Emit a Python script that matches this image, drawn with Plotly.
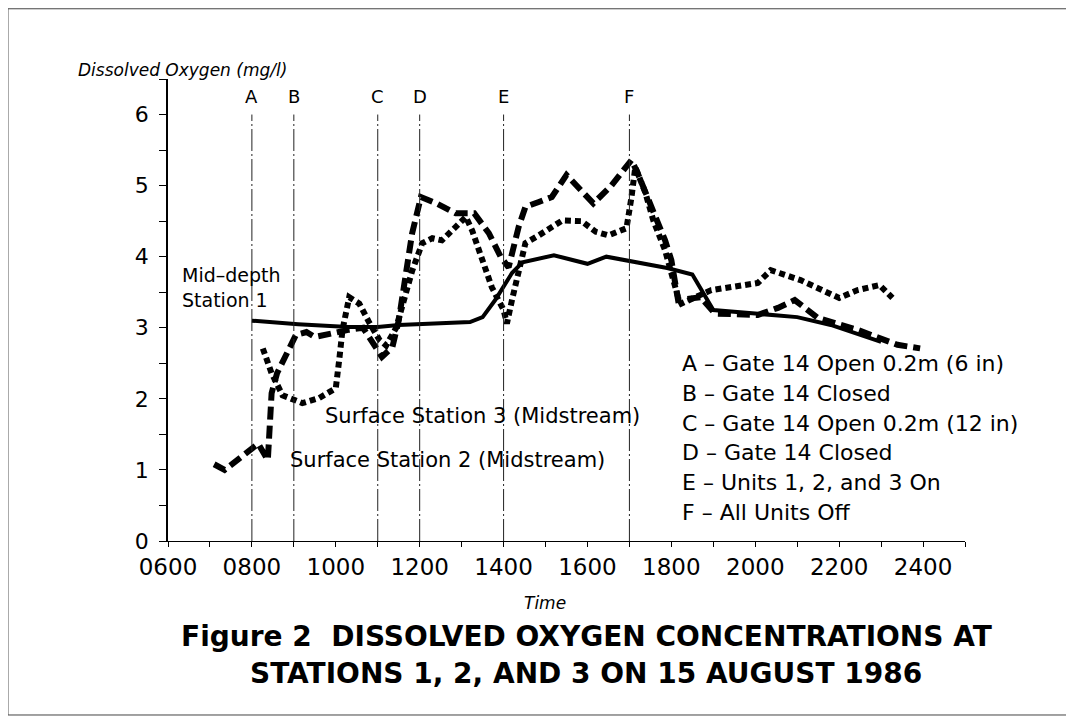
import plotly.graph_objects as go

# Time in decimal hours, dissolved oxygen in mg/l
st1_time = [8.0, 9.1, 10.3, 11.0, 11.5, 12.0, 13.2, 13.5, 13.8, 14.2, 14.45, 15.2,
            16.0, 16.45, 17.2, 17.9, 18.5, 19.0, 20.0, 21.0, 21.8, 23.0]
st1_do = [3.10, 3.05, 3.01, 3.01, 3.04, 3.05, 3.08, 3.15, 3.39, 3.77, 3.92, 4.02,
          3.90, 4.00, 3.91, 3.84, 3.75, 3.25, 3.20, 3.15, 3.04, 2.80]

st2_time = [7.1, 7.35, 8.15, 8.38, 8.47, 8.6, 9.05, 9.3, 9.5, 10.0, 10.3, 10.65,
            11.1, 11.35, 11.5, 11.82, 12.03, 12.4, 12.86, 13.3, 13.65, 13.93, 14.12,
            14.36, 14.52, 14.84, 15.15, 15.5, 15.86, 16.14, 16.57, 17.05, 17.2, 17.45,
            17.6, 17.85, 18.0, 18.16, 18.7, 19.04, 20.06, 20.54, 20.94, 21.18, 21.49,
            22.44, 23.08, 23.39, 23.93]
st2_do = [1.08, 1.0, 1.37, 1.14, 2.08, 2.36, 2.90, 2.94, 2.87, 2.94, 2.97, 3.0,
          2.59, 2.73, 3.1, 4.33, 4.84, 4.75, 4.61, 4.61, 4.33, 4.0, 3.85,
          4.42, 4.70, 4.77, 4.84, 5.15, 4.94, 4.75, 5.0, 5.36, 5.17, 4.8,
          4.56, 4.23, 3.95, 3.39, 3.43, 3.20, 3.18, 3.28, 3.39, 3.27, 3.14,
          2.97, 2.83, 2.76, 2.71]

st3_time = [8.26, 8.47, 8.73, 9.2, 9.6, 10.0, 10.09, 10.16, 10.32, 10.56, 10.8, 11.04,
            11.2, 11.44, 11.82, 12.06, 12.3, 12.53, 12.86, 13.1, 13.25, 13.48, 13.72,
            14.0, 14.08, 14.2, 14.3, 14.52, 14.84, 15.24, 15.4, 15.86, 16.2, 16.5,
            16.93, 17.05, 17.14, 17.38, 17.57, 17.85, 18.0, 18.16, 18.24, 18.8, 18.95,
            20.06, 20.37, 21.08, 21.56, 22.0, 22.44, 22.96, 23.27]
st3_do = [2.71, 2.36, 2.05, 1.94, 2.01, 2.15, 2.59, 2.97, 3.43, 3.34, 3.07, 2.83,
          2.75, 3.0, 3.8, 4.19, 4.26, 4.23, 4.42, 4.56, 4.37, 3.95, 3.57,
          3.25, 3.06, 3.39, 3.67, 4.19, 4.30, 4.44, 4.51, 4.50, 4.35, 4.30,
          4.40, 4.84, 5.26, 4.9, 4.51, 4.09, 3.77, 3.43, 3.34, 3.48, 3.53,
          3.63, 3.81, 3.67, 3.53, 3.42, 3.53, 3.60, 3.42]

event_letters = ["A", "B", "C", "D", "E", "F"]
event_times = [8, 9, 11, 12, 14, 17]
event_notes = ["Gate 14 Open 0.2m (6 in)", "Gate 14 Closed", "Gate 14 Open 0.2m (12 in)",
               "Gate 14 Closed", "Units 1, 2, and 3 On", "All Units Off"]

x_tickvals = list(range(6, 26))
x_ticktext = ["0600", "", "0800", "", "1000", "", "1200", "", "1400", "", "1600", "",
              "1800", "", "2000", "", "2200", "", "2400", ""]
y_tickvals = [0, 0.5, 1, 1.5, 2, 2.5, 3, 3.5, 4, 4.5, 5, 5.5, 6, 6.5]
y_ticktext = ["0", "", "1", "", "2", "", "3", "", "4", "", "5", "", "6", ""]

FONT = "DejaVu Sans"
INK = "black"

fig = go.Figure()

fig.add_trace(go.Scatter(x=st1_time, y=st1_do, mode="lines", name="Mid-depth Station 1",
                         line=dict(color=INK, width=4)))
fig.add_trace(go.Scatter(x=st2_time, y=st2_do, mode="lines", name="Surface Station 2",
                         line=dict(color=INK, width=6, dash="13px,6px")))
fig.add_trace(go.Scatter(x=st3_time, y=st3_do, mode="lines", name="Surface Station 3",
                         line=dict(color=INK, width=6, dash="6px,4px")))

# event markers (vertical lines + letters)
for letter, t in zip(event_letters, event_times):
    fig.add_shape(type="line", xref="x", yref="y", x0=t, x1=t, y0=0, y1=6.0,
                  line=dict(color="#222", width=1, dash="22px,3px,2px,3px"))
    fig.add_annotation(x=t, y=6.26, xref="x", yref="y", yanchor="middle", text=letter,
                       showarrow=False, font=dict(family=FONT, size=18, color=INK))

# event legend text
legend_y = [2.5, 2.08, 1.66, 1.24, 0.82, 0.40]
for letter, note, ly in zip(event_letters, event_notes, legend_y):
    fig.add_annotation(x=18.2, y=ly, xref="x", yref="y", xanchor="left", yanchor="middle",
                       text=f"{letter} \u2013 {note}", showarrow=False,
                       font=dict(family=FONT, size=22, color=INK))

# series labels
fig.add_annotation(x=6.28, y=3.57, xref="x", yref="y", xanchor="left", yanchor="middle",
                   align="left", text="Mid\u2013depth<br>Station 1", showarrow=False,
                   font=dict(family=FONT, size=19, color=INK))
fig.add_annotation(x=9.7, y=1.76, xref="x", yref="y", xanchor="left", yanchor="middle",
                   text="Surface Station 3 (Midstream)", showarrow=False,
                   font=dict(family=FONT, size=21, color=INK))
fig.add_annotation(x=8.85, y=1.14, xref="x", yref="y", xanchor="left", yanchor="middle",
                   text="Surface Station 2 (Midstream)", showarrow=False,
                   font=dict(family=FONT, size=21, color=INK))

# axis titles
fig.add_annotation(x=-0.116, y=1.019, xref="paper", yref="paper", xanchor="left",
                   yanchor="middle", text="<i>Dissolved Oxygen (mg/l)</i>", showarrow=False,
                   font=dict(family=FONT, size=17, color=INK))
fig.add_annotation(x=0.473, y=-0.135, xref="paper", yref="paper", xanchor="center",
                   yanchor="middle", text="<i>Time</i>", showarrow=False,
                   font=dict(family=FONT, size=17, color=INK))

# figure caption (two lines)
caption = ["Figure 2  DISSOLVED OXYGEN CONCENTRATIONS AT",
           "STATIONS 1, 2, AND 3 ON 15 AUGUST 1986"]
for line, cy in zip(caption, [-0.206, -0.287]):
    fig.add_annotation(x=0.5245, y=cy, xref="paper", yref="paper", xanchor="center",
                       yanchor="middle", text=f"<b>{line}</b>", showarrow=False,
                       font=dict(family=FONT, size=28, color=INK))

# page frame
fig.add_shape(type="rect", xref="paper", yref="paper",
              x0=-0.2008, x1=1.1317, y0=-0.3766, y1=1.152,
              line=dict(color="#444", width=1))

# page body has an 8px margin, so the figure is 8px smaller than the window
fig.update_layout(
    width=1066, height=713,
    margin=dict(l=160, r=109, t=71, b=180),
    paper_bgcolor="white", plot_bgcolor="white",
    showlegend=False,
    font=dict(family=FONT, color=INK),
    xaxis=dict(range=[6, 25], tickvals=x_tickvals, ticktext=x_ticktext,
               ticks="outside", ticklen=5, tickcolor=INK, showgrid=False,
               zeroline=False, showline=True, linecolor=INK, linewidth=1,
               tickfont=dict(family=FONT, size=23, color=INK)),
    yaxis=dict(range=[0, 6.5], tickvals=y_tickvals, ticktext=y_ticktext,
               ticks="outside", ticklen=7, tickcolor=INK, showgrid=False,
               zeroline=False, showline=True, linecolor=INK, linewidth=1.5,
               ticklabelstandoff=6,
               tickfont=dict(family=FONT, size=22, color=INK)),
)

fig.write_html("out.html")
